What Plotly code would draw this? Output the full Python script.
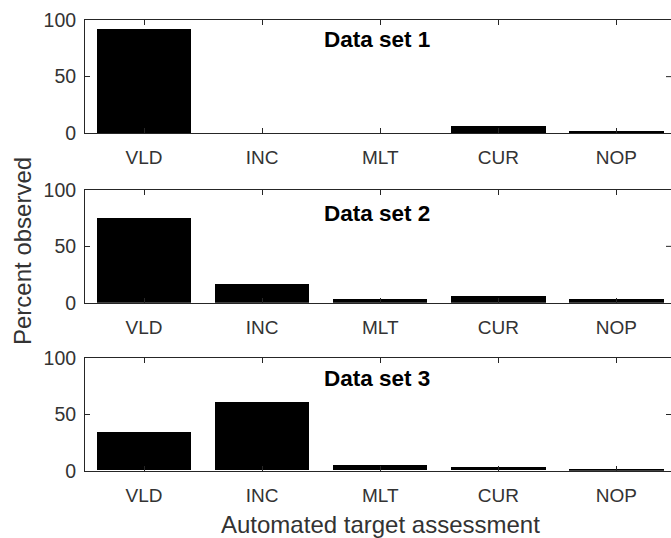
import plotly.graph_objects as go
from plotly.subplots import make_subplots

# Assessment categories and percent observed for each data set
categories = ["VLD", "INC", "MLT", "CUR", "NOP"]
data_set_1 = [92.0, 0.0, 0.0, 6.6, 1.6]
data_set_2 = [74.8, 16.2, 3.2, 5.9, 3.2]
data_set_3 = [34.2, 60.8, 4.4, 3.0, 0.5]
series = [data_set_1, data_set_2, data_set_3]
panel_titles = ["Data set 1", "Data set 2", "Data set 3"]
y_ticks = [0, 50, 100]

W, H = 671, 538
FONT = "Liberation Sans, Arial, Helvetica, sans-serif"
INK = "#262626"

# page-pixel layout of the three stacked panels (top, bottom)
panel_px = [(20.0, 133.3), (190.0, 302.7), (358.3, 470.7)]
title_px = [40.8, 214.2, 379.2]
left_px = 85.0
step_px = 118.1  # pixel distance between neighbouring categories

fig = make_subplots(rows=3, cols=1)

x_pos = list(range(1, len(categories) + 1))
x_end = 0.5 + (W - left_px) / step_px

for i, vals in enumerate(series):
    r = i + 1
    top, bot = panel_px[i]
    fig.add_trace(
        go.Bar(x=x_pos, y=vals, width=0.8, marker=dict(color="black", line=dict(width=0)),
               showlegend=False, hoverinfo="skip"),
        row=r, col=1,
    )
    fig.update_xaxes(
        row=r, col=1,
        automargin=False,
        domain=[left_px / W, 1.0],
        range=[0.5, x_end],
        tickmode="array", tickvals=x_pos, ticktext=categories,
        ticks="inside", ticklen=5, tickwidth=1, tickcolor=INK,
        showline=True, linecolor=INK, linewidth=1, mirror="ticks",
        showgrid=False, zeroline=False,
        tickfont=dict(family=FONT, size=19, color="#333333"),
        ticklabelstandoff=7,
    )
    fig.update_yaxes(
        row=r, col=1,
        automargin=False,
        domain=[1 - bot / H, 1 - top / H],
        range=[0, 100],
        tickmode="array", tickvals=y_ticks, ticktext=[str(t) for t in y_ticks],
        ticks="inside", ticklen=5, tickwidth=1, tickcolor=INK,
        showline=True, linecolor=INK, linewidth=1, mirror=False,
        showgrid=False, zeroline=False,
        tickfont=dict(family=FONT, size=19.5, color="#333333"),
        ticklabelstandoff=4,
    )
    # right-hand tick marks at the mid value
    xd = "x domain" if r == 1 else f"x{r} domain"
    yr = "y" if r == 1 else f"y{r}"
    fig.add_shape(type="line", xref=xd, yref=yr,
                  x0=1 - 5 / (W - left_px), x1=1, y0=y_ticks[1], y1=y_ticks[1],
                  line=dict(color=INK, width=1))
    # panel title
    fig.add_annotation(
        xref="paper", yref="paper",
        x=(left_px + (W - left_px) / 2) / W - 1 / W, y=1 - (title_px[i] - 1) / H,
        text=f"<b>{panel_titles[i]}</b>", showarrow=False,
        xanchor="center", yanchor="middle",
        font=dict(family=FONT, size=22.5, color="black"),
    )

# shared axis titles
fig.add_annotation(
    xref="paper", yref="paper", x=22 / W, y=1 - 251 / H,
    text="Percent observed", textangle=-90, showarrow=False,
    xanchor="center", yanchor="middle",
    font=dict(family=FONT, size=24, color="#333333"),
)
fig.add_annotation(
    xref="paper", yref="paper", x=380 / W, y=1 - 524 / H,
    text="Automated target assessment", showarrow=False,
    xanchor="center", yanchor="middle",
    font=dict(family=FONT, size=24, color="#333333"),
)

fig.update_layout(
    width=W, height=H,
    margin=dict(l=0, r=0, t=0, b=0, autoexpand=False),
    paper_bgcolor="white", plot_bgcolor="white",
    bargap=0,
)

fig.write_html("out.html")
